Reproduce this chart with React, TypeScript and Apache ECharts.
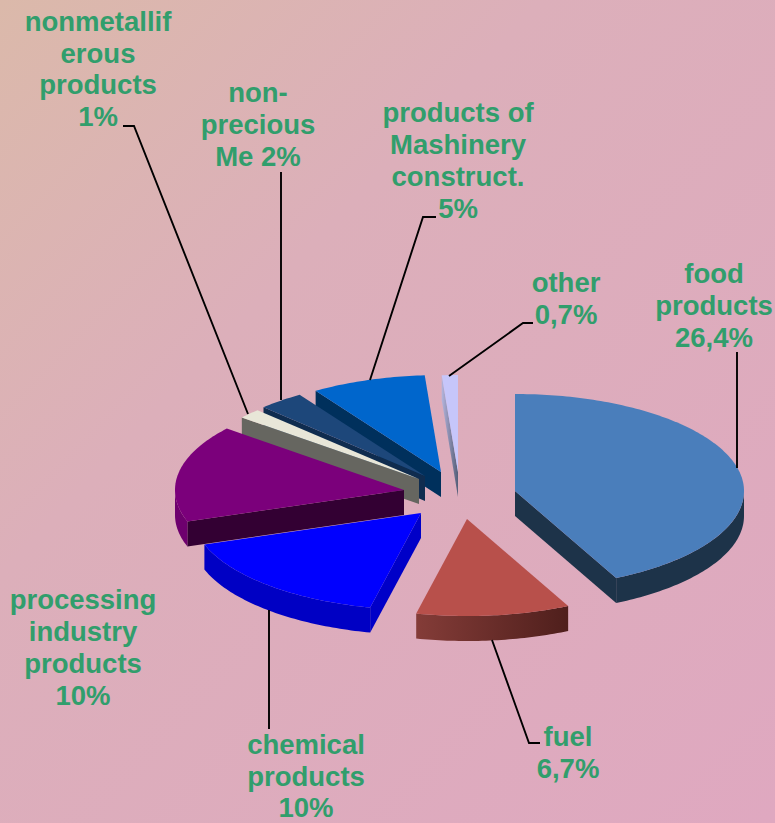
import React, { useEffect, useRef } from "react";
import * as echarts from "echarts";

const categories = [
  "food products",
  "fuel",
  "chemical products",
  "processing industry products",
  "nonmetalliferous products",
  "non-precious Me",
  "products of Mashinery construct.",
  "other",
];
const sliceValues = [26.4, 6.7, 10, 10, 1, 2, 5, 0.7];
const labelTexts = [
  "food\nproducts\n26,4%",
  "fuel\n6,7%",
  "chemical\nproducts\n10%",
  "processing\nindustry\nproducts\n10%",
  "nonmetallif\nerous\nproducts\n1%",
  "non-\nprecious\nMe 2%",
  "products of\nMashinery\nconstruct.\n5%",
  "other\n0,7%",
];

// Layout and style, kept apart from the data
const RX = 229;
const RY = 97;
const DEPTH = 25;
const LINE_STEP = 31.7;
const apexes = [
  [515, 491], [467, 519], [421, 513], [404, 490],
  [419, 479], [425, 476], [441, 472], [458, 472],
];
const topColors = ["#4A7EBB", "#B8504B", "#0000FF", "#7B007B", "#E8E6D8", "#1D477A", "#0066CC", "#C6C6FA"];
const rimColors: any[] = [
  "#1D3349",
  new echarts.graphic.LinearGradient(0, 0, 1, 0, [
    { offset: 0, color: "#843C38" },
    { offset: 1, color: "#4F1F1C" },
  ]),
  "#0000C4", "#6E006E", "#666660", "#0F2C4F", "#00305C", "#666680",
];
const cutColors: any[] = [
  "#1D3349", "#4F1F1C", "#0000C8", "#330033", "#666660", "#0F2C4F", "#00305C",
  new echarts.graphic.LinearGradient(0, 0, 1, 0, [
    { offset: 0, color: "#B4B4DC" },
    { offset: 1, color: "#555E78" },
  ]),
];
const labelCenters = [
  [714, 305.5], [568, 752.5], [306, 776], [83, 647.5],
  [98, 69], [258, 124.5], [458, 160.5], [566, 298.5],
];
const leaderLines = [
  [[737, 352], [737, 468]],
  [[540, 743], [529, 743], [492, 640]],
  [[269, 610], [269, 729]],
  [[123, 126], [134, 126], [248, 414]],
  [[281, 172], [281, 400]],
  [[436, 217], [423, 217], [370, 380]],
  [[533, 323], [523, 323], [449, 376]],
];

const total = sliceValues.reduce((a, b) => a + b, 0);
const starts: number[] = [];
sliceValues.reduce((acc, v, i) => {
  starts[i] = acc;
  return acc + v;
}, 0);

const rad = (deg: number) => (deg * Math.PI) / 180;
const rimPoint = (i: number, deg: number, dy = 0) => [
  apexes[i][0] + RX * Math.sin(rad(deg)),
  apexes[i][1] - RY * Math.cos(rad(deg)) + dy,
];
const arcPoints = (i: number, from: number, to: number, dy = 0) => {
  const pts: number[][] = [];
  const n = Math.max(2, Math.ceil(to - from));
  for (let k = 0; k <= n; k++) pts.push(rimPoint(i, from + ((to - from) * k) / n, dy));
  return pts;
};

function renderSlice(params: any, api: any) {
  const i = params.dataIndex;
  const value = api.value(0);
  const a0 = (starts[i] / total) * 360;
  const a1 = a0 + (value / total) * 360;
  const [ax, ay] = apexes[i];
  const base = (8 - i) * 10;
  const children: any[] = [];

  const cut = (deg: number, z: number) => {
    const p = rimPoint(i, deg);
    children.push({
      type: "polygon",
      z2: base + z,
      shape: { points: [[ax, ay], p, [p[0], p[1] + DEPTH], [ax, ay + DEPTH]] },
      style: { fill: cutColors[i] },
    });
  };
  if (Math.cos(rad(a0 - 90)) < -1e-6) cut(a0, 1);
  if (Math.cos(rad(a1 + 90)) < -1e-6) cut(a1, 1);

  const r0 = Math.max(a0, 90);
  const r1 = Math.min(a1, 270);
  if (r1 > r0) {
    children.push({
      type: "polygon",
      z2: base + 2,
      shape: { points: [...arcPoints(i, r0, r1), ...arcPoints(i, r0, r1, DEPTH).reverse()] },
      style: { fill: rimColors[i] },
    });
  }
  children.push({
    type: "polygon",
    z2: base + 3,
    shape: { points: [[ax, ay], ...arcPoints(i, a0, a1)] },
    style: { fill: topColors[i] },
  });
  return { type: "group", children };
}

export default function App() {
  const ref = useRef<HTMLDivElement>(null);
  useEffect(() => {
    const chart = echarts.init(ref.current!, null, { renderer: "svg" });
    chart.setOption({
      animation: false,
      backgroundColor: new echarts.graphic.LinearGradient(0, 0, 1, 1, [
        { offset: 0, color: "#DBB9AA" },
        { offset: 0.35, color: "#DCAFBA" },
        { offset: 1, color: "#DFA8C0" },
      ]),
      series: [
        {
          type: "custom",
          coordinateSystem: "none",
          renderItem: renderSlice,
          data: sliceValues.map((v, i) => ({ name: categories[i], value: [v] })),
          silent: true,
        },
      ],
      graphic: [
        ...leaderLines.map((points) => ({
          type: "polyline",
          z: 5,
          shape: { points },
          style: { stroke: "#000", lineWidth: 1.9, fill: "none" },
        })),
        ...labelTexts.flatMap((text, i) => {
          const lines = text.split("\n");
          return lines.map((line, k) => ({
            type: "text",
            z: 6,
            x: labelCenters[i][0],
            y: labelCenters[i][1] + (k - (lines.length - 1) / 2) * LINE_STEP,
            style: {
              text: line,
              fill: "#319E6C",
              font: 'bold 27.5px "Liberation Sans", Arial, sans-serif',
              lineHeight: 24,
              align: "center",
              verticalAlign: "middle",
            },
          }));
        }),
      ],
    });
    return () => chart.dispose();
  }, []);
  return <div ref={ref} style={{ position: "fixed", left: 0, top: 0, width: 775, height: 823 }} />;
}
